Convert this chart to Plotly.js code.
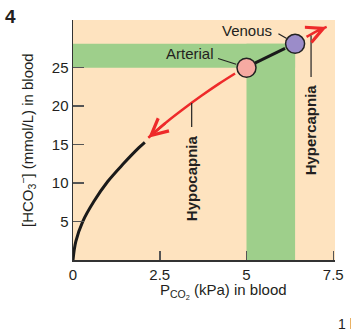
<!DOCTYPE html>
<html><head><meta charset="utf-8">
<script src="https://cdn.plot.ly/plotly-3.0.1.min.js"></script>
<style>html,body{margin:0;padding:0;background:#fff}#chart{width:351px;height:331px}</style>
</head><body><div id="chart"></div>
<script>
// ---- data ----
const xTicks = [0, 2.5, 5, 7.5];
const xTickText = ['0', '2.5', '5', '7.5'];
const yTicks = [5, 10, 15, 20, 25];
const yTickText = ['5', '10', '15', '20', '25'];

// buffer curve (black part)
const curveX = [0, 0.08, 0.28, 0.6, 1.0, 1.45, 1.9, 2.07];
const curveY = [0, 2.4, 5.0, 7.6, 10.2, 12.5, 14.6, 15.3];
// hypocapnia arrow (red, from arterial down the curve)
const hypoX = [4.67, 4.2, 3.7, 3.2, 2.7, 2.17];
const hypoY = [24.25, 22.9, 21.35, 19.7, 17.95, 15.9];
// segment between arterial and venous
const midX = [5.24, 6.11];
const midY = [25.6, 27.5];
// hypercapnia arrow (red, beyond venous)
const hyperX = [6.73, 7.0, 7.31];
const hyperY = [29.0, 29.7, 30.3];
// points
const pointNames = ['Arterial', 'Venous'];
const pointX = [5.0, 6.4];
const pointY = [25.0, 28.1];
const pointColors = ['#F6AAA2', '#9B8CC9'];

const W = 351, H = 331, L = 73, R = 16, T = 20, B = 71;
const pw = W - L - R, ph = H - T - B;
const px = v => (v - L) / pw;
const py = v => (H - B - v) / ph;

const RED = '#EE2A2A', GREEN = '#9ECF8B', BEIGE = '#FEE3BF';

const traces = [
  {x: curveX, y: curveY, mode: 'lines', line: {color: '#1a1a1a', width: 3, shape: 'spline'}},
  {x: hypoX, y: hypoY, mode: 'lines', line: {color: RED, width: 2.5, shape: 'spline'}},
  {x: midX, y: midY, mode: 'lines', line: {color: '#1a1a1a', width: 3}},
  {x: hyperX, y: hyperY, mode: 'lines', line: {color: RED, width: 2.5, shape: 'spline'}},
  {x: pointX, y: pointY, mode: 'markers',
   marker: {size: 19, color: pointColors, line: {color: '#222', width: 1.5}}}
];

const shapes = [
  {type: 'rect', xref: 'x', yref: 'y', x0: 0, x1: pointX[1], y0: pointY[0], y1: pointY[1],
   fillcolor: GREEN, line: {width: 0}, layer: 'below'},
  {type: 'rect', xref: 'x', yref: 'y', x0: pointX[0], x1: pointX[1], y0: 0, y1: pointY[1],
   fillcolor: GREEN, line: {width: 0}, layer: 'below'},
  // leader lines
  {type: 'line', xref: 'x', yref: 'y', x0: 4.18, y0: 26.2, x1: 4.7, y1: 25.45, line: {color: '#222', width: 1.2}},
  {type: 'line', xref: 'x', yref: 'y', x0: 5.92, y0: 29.4, x1: 6.16, y1: 28.8, line: {color: '#222', width: 1.2}},
  {type: 'line', xref: 'x', yref: 'y', x0: 3.42, y0: 20.4, x1: 3.42, y1: 17.3, line: {color: '#222', width: 1.2}},
  {type: 'line', xref: 'x', yref: 'y', x0: 6.86, y0: 29.2, x1: 6.86, y1: 23.8, line: {color: '#222', width: 1.2}}
];

const FAM = 'Liberation Sans, Arial, sans-serif';
const f = {family: FAM, size: 15, color: '#231f20'};
const fb = {family: FAM, size: 15, color: '#231f20', weight: 'bold'};
const n = hypoX.length, m = hyperX.length;
const annotations = [
  // arrowheads
  {x: hypoX[n-1], y: hypoY[n-1], ax: hypoX[n-2], ay: hypoY[n-2], xref: 'x', yref: 'y', axref: 'x', ayref: 'y',
   showarrow: true, arrowhead: 5, arrowsize: 1.3, arrowwidth: 2.5, arrowcolor: RED, text: '', standoff: 0},
  {x: hyperX[m-1], y: hyperY[m-1], ax: hyperX[m-2], ay: hyperY[m-2], xref: 'x', yref: 'y', axref: 'x', ayref: 'y',
   showarrow: true, arrowhead: 5, arrowsize: 1.3, arrowwidth: 2.5, arrowcolor: RED, text: '', standoff: 0},
  {x: 3.37, y: 26.9, xref: 'x', yref: 'y', xanchor: 'center', yanchor: 'middle', text: pointNames[0], showarrow: false, font: f},
  {x: 5.0, y: 29.9, xref: 'x', yref: 'y', xanchor: 'center', yanchor: 'middle', text: pointNames[1], showarrow: false, font: f},
  {x: 3.42, y: 10.6, xref: 'x', yref: 'y', xanchor: 'center', yanchor: 'middle', text: 'Hypocapnia', textangle: -90, showarrow: false, font: fb},
  {x: 6.84, y: 16.9, xref: 'x', yref: 'y', xanchor: 'center', yanchor: 'middle', text: 'Hypercapnia', textangle: -90, showarrow: false, font: fb},
  {x: px(223.7), y: py(291.7), xref: 'paper', yref: 'paper', xanchor: 'center', yanchor: 'middle',
   text: 'P<sub>CO<sub>2</sub></sub> (kPa) in blood', showarrow: false, font: f},
  {x: px(27), y: py(140), xref: 'paper', yref: 'paper', xanchor: 'center', yanchor: 'middle',
   text: '[HCO<sub>3</sub><sup>−</sup>] (mmol/L) in blood', textangle: -90, showarrow: false, font: f},
  {x: px(10), y: py(16), xref: 'paper', yref: 'paper', xanchor: 'center', yanchor: 'middle', text: '4', showarrow: false,
   font: {family: FAM, size: 19, color: '#231f20', weight: 'bold'}},
  {x: px(335.5), y: py(324), xref: 'paper', yref: 'paper', xanchor: 'left', yanchor: 'middle', text: '1 k', showarrow: false,
   font: {family: FAM, size: 14, color: '#231f20'}}
];

const axisCommon = {showgrid: false, zeroline: false, showline: true, linecolor: '#333', linewidth: 1.5,
  ticks: 'inside', tickcolor: '#555', tickwidth: 1.5, tickfont: f, fixedrange: true};

const layout = {
  width: W, height: H, margin: {l: L, r: R, t: T, b: B},
  paper_bgcolor: '#fff', plot_bgcolor: BEIGE, showlegend: false, hovermode: false,
  xaxis: Object.assign({}, axisCommon, {range: [0, 7.55], tickvals: xTicks, ticktext: xTickText, ticklen: 9}),
  yaxis: Object.assign({}, axisCommon, {range: [0, 31.2], tickvals: yTicks, ticktext: yTickText, ticklen: 11}),
  shapes: shapes, annotations: annotations
};

Plotly.newPlot('chart', traces, layout, {displayModeBar: false, staticPlot: true});
</script></body></html>
